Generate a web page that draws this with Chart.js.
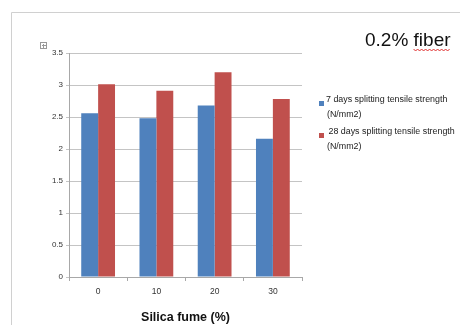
<!DOCTYPE html>
<html lang="en">
<head>
    <meta charset="UTF-8">
    <title>Splitting tensile strength - 0.2% fiber</title>
    <style>
        body {
            margin: 0;
            background: #fff;
            font-family: "Liberation Sans", Arial, sans-serif;
        }
        .wrap {
            width: 460px;
            height: 325px;
        }
    </style>
    <script src="https://cdn.jsdelivr.net/npm/chart.js"></script>
</head>
<body>

<div class="wrap">
    <canvas id="strengthChart" width="460" height="325"></canvas>
</div>

<script>
    // Data
    const silicaFume = ['0', '10', '20', '30'];
    const days7 = [2.56, 2.48, 2.68, 2.16];
    const days28 = [3.01, 2.91, 3.20, 2.78];
    const seriesNames = [
        ['7 days splitting tensile strength', '(N/mm2)'],
        [' 28 days splitting tensile strength', '(N/mm2)']
    ];
    const chartTitle = '0.2% fiber';

    // frame, title, little icon and the two-line legend
    const decorations = {
        id: 'decorations',
        beforeDraw(chart) {
            const ctx = chart.ctx;
            ctx.save();
            ctx.fillStyle = '#fff';
            ctx.fillRect(0, 0, chart.width, chart.height);
            ctx.strokeStyle = '#d0d0d0';
            ctx.lineWidth = 1;
            ctx.beginPath();
            ctx.moveTo(11.5, chart.height);
            ctx.lineTo(11.5, 12.5);
            ctx.lineTo(chart.width, 12.5);
            ctx.stroke();
            ctx.restore();
        },
        afterDraw(chart) {
            const ctx = chart.ctx;
            ctx.save();

            // title
            ctx.font = '19px "Liberation Sans", Arial, sans-serif';
            ctx.fillStyle = '#111';
            ctx.textBaseline = 'alphabetic';
            ctx.fillText(chartTitle, 365, 46);
            const pre = ctx.measureText('0.2% ').width;
            const full = ctx.measureText(chartTitle).width;
            // spell-check squiggle under "fiber"
            ctx.strokeStyle = '#e03030';
            ctx.lineWidth = 1;
            ctx.beginPath();
            let up = true;
            for (let x = 365 + pre; x <= 365 + full; x += 2) {
                const y = up ? 49 : 51;
                if (x === 365 + pre) ctx.moveTo(x, y); else ctx.lineTo(x, y);
                up = !up;
            }
            ctx.stroke();

            // small expand icon
            ctx.strokeStyle = '#999';
            ctx.strokeRect(40.5, 42.5, 6, 6);
            ctx.beginPath();
            ctx.moveTo(43.5, 44); ctx.lineTo(43.5, 48);
            ctx.moveTo(42, 45.5); ctx.lineTo(46, 45.5);
            ctx.stroke();

            // legend
            ctx.font = '8.9px "Liberation Sans", Arial, sans-serif';
            ctx.textBaseline = 'middle';
            const rows = [100, 132];
            chart.data.datasets.forEach((ds, i) => {
                const y = rows[i];
                ctx.fillStyle = ds.backgroundColor;
                ctx.fillRect(319, y + 1, 5, 5);
                ctx.fillStyle = '#222';
                ctx.fillText(seriesNames[i][0], 326, y);
                ctx.fillText(seriesNames[i][1], 327, y + 15);
            });
            ctx.restore();
        }
    };

    const ctx = document.getElementById('strengthChart').getContext('2d');
    new Chart(ctx, {
        type: 'bar',
        data: {
            labels: silicaFume,
            datasets: [{
                label: seriesNames[0].join(' '),
                data: days7,
                backgroundColor: '#4F81BD',
                barPercentage: 1,
                categoryPercentage: 0.58
            }, {
                label: seriesNames[1].join(' '),
                data: days28,
                backgroundColor: '#C0504D',
                barPercentage: 1,
                categoryPercentage: 0.58
            }]
        },
        options: {
            responsive: false,
            animation: false,
            layout: {
                padding: { top: 53, right: 158, left: 0, bottom: 0 }
            },
            scales: {
                x: {
                    grid: {
                        drawOnChartArea: false,
                        tickLength: 4,
                        color: '#a8a8a8'
                    },
                    border: { color: '#a8a8a8' },
                    ticks: {
                        color: '#333',
                        font: { size: 8.5, family: '"Liberation Sans", Arial, sans-serif' },
                        padding: 6
                    },
                    title: {
                        display: true,
                        text: 'Silica fume (%)',
                        color: '#111',
                        font: { size: 12.5, weight: 'bold', family: '"Liberation Sans", Arial, sans-serif' },
                        padding: { top: 4, bottom: 0 }
                    },
                    afterFit(scale) { scale.height = 48; }
                },
                y: {
                    min: 0,
                    max: 3.5,
                    ticks: {
                        stepSize: 0.5,
                        color: '#333',
                        font: { size: 8, family: '"Liberation Sans", Arial, sans-serif' },
                        padding: 3,
                        callback: v => String(v)
                    },
                    grid: {
                        color: '#c4c4c4',
                        tickLength: 3
                    },
                    border: { color: '#a8a8a8' },
                    afterFit(scale) { scale.width = 69; }
                }
            },
            plugins: {
                legend: { display: false },
                tooltip: { enabled: false }
            }
        },
        plugins: [decorations]
    });
</script>

</body>
</html>
